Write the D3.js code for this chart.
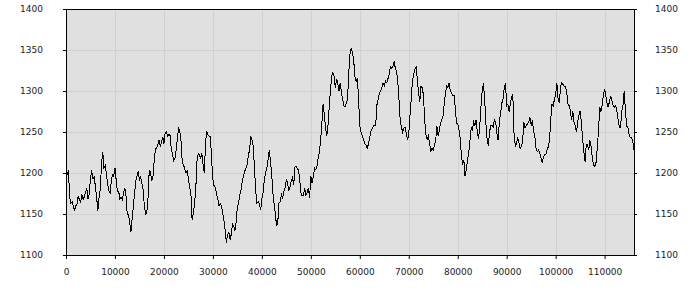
<!DOCTYPE html>
<html>
<head>
<meta charset="utf-8">
<script src="https://cdn.jsdelivr.net/npm/d3@7/dist/d3.min.js"></script>
<style>
  body { margin: 0; background: #fff; }
  .axis text { font-family: "DejaVu Sans", sans-serif; font-size: 9px; fill: #222; }
  .axis line { stroke: #000; }
  .axis path { display: none; }
</style>
</head>
<body>
<div id="chart"></div>
<script>
// samples every 250 units along x
const xStep = 250;
const values = [
  // 0 - 23000
  1200, 1198, 1203, 1170, 1163, 1165, 1160, 1154, 1160, 1162,
  1172, 1167, 1164, 1174, 1168, 1171, 1177, 1181, 1168, 1175,
  1194, 1203, 1193, 1195, 1184, 1171, 1154, 1170, 1180, 1210,
  1226, 1206, 1209, 1199, 1186, 1179, 1175, 1190, 1198, 1196,
  1206, 1191, 1177, 1178, 1168, 1171, 1168, 1175, 1182, 1172,
  1150, 1149, 1140, 1128, 1144, 1159, 1175, 1190, 1196, 1202,
  1192, 1195, 1187, 1180, 1160, 1150, 1152, 1170, 1203, 1201,
  1190, 1195, 1214, 1229, 1231, 1234, 1240, 1232, 1238, 1244,
  1236, 1249, 1250, 1245, 1247, 1246, 1230, 1223, 1215, 1218,
  1228, 1242, 1256, 1250,
  // 23500 - 46750
  1238, 1212, 1210, 1205, 1200, 1202, 1193, 1183, 1176, 1143,
  1150, 1163, 1180, 1214, 1224, 1222, 1218, 1224, 1210, 1200,
  1238, 1251, 1246, 1245, 1244, 1215, 1192, 1184, 1182, 1175,
  1168, 1160, 1163, 1160, 1151, 1142, 1130, 1115, 1125, 1128,
  1119, 1125, 1138, 1135, 1130, 1140, 1159, 1163, 1174, 1180,
  1190, 1196, 1202, 1206, 1210, 1222, 1228, 1245, 1240, 1232,
  1205, 1178, 1163, 1165, 1162, 1155, 1168, 1176, 1192, 1200,
  1205, 1216, 1228, 1215, 1200, 1176, 1163, 1151, 1135, 1140,
  1163, 1165, 1174, 1170, 1178, 1182, 1192, 1188, 1178, 1183,
  1190, 1194, 1185, 1207,
  // 47000 - 70250
  1208, 1205, 1204, 1190, 1175, 1172, 1172, 1182, 1173, 1176,
  1182, 1170, 1196, 1188, 1195, 1206, 1204, 1208, 1218, 1225,
  1240, 1260, 1284, 1272, 1255, 1245, 1258, 1280, 1300, 1318,
  1322, 1318, 1304, 1315, 1310, 1300, 1310, 1298, 1290, 1282,
  1281, 1285, 1290, 1322, 1345, 1352, 1347, 1338, 1318, 1312,
  1316, 1290, 1258, 1250, 1245, 1241, 1236, 1234, 1230, 1235,
  1242, 1251, 1254, 1257, 1258, 1258, 1283, 1290, 1297, 1300,
  1304, 1310, 1306, 1312, 1310, 1315, 1320, 1330, 1328, 1330,
  1336, 1328, 1324, 1312, 1290, 1265, 1256, 1250, 1255, 1256,
  1248, 1240, 1248, 1270,
  // 70500 - 93750
  1290, 1312, 1320, 1326, 1330, 1314, 1298, 1287, 1306, 1304,
  1295, 1265, 1247, 1241, 1245, 1237, 1226, 1230, 1228, 1233,
  1240, 1257, 1245, 1252, 1261, 1265, 1270, 1284, 1298, 1306,
  1304, 1310, 1300, 1298, 1294, 1294, 1280, 1260, 1260, 1253,
  1243, 1222, 1210, 1216, 1196, 1205, 1216, 1224, 1240, 1255,
  1253, 1262, 1258, 1265, 1250, 1241, 1258, 1281, 1300, 1310,
  1290, 1261, 1241, 1233, 1250, 1258, 1258, 1256, 1265, 1262,
  1248, 1240, 1262, 1273, 1285, 1290, 1304, 1310, 1282, 1284,
  1275, 1285, 1292, 1296, 1248, 1233, 1236, 1242, 1237, 1230,
  1232, 1238, 1262, 1255,
  // 94000 - 116000
  1258, 1260, 1262, 1268, 1258, 1264, 1250, 1245, 1230, 1226,
  1228, 1225, 1218, 1212, 1220, 1222, 1222, 1228, 1232, 1240,
  1265, 1284, 1282, 1290, 1296, 1310, 1290, 1285, 1306, 1310,
  1308, 1306, 1305, 1300, 1284, 1282, 1276, 1265, 1275, 1262,
  1258, 1250, 1262, 1270, 1276, 1262, 1242, 1226, 1214, 1235,
  1235, 1228, 1240, 1232, 1218, 1210, 1208, 1213, 1230, 1252,
  1280, 1275, 1283, 1296, 1302, 1294, 1285, 1280, 1288, 1294,
  1288, 1282, 1280, 1282, 1276, 1265, 1256, 1256, 1276, 1282,
  1300, 1276, 1257, 1256, 1247, 1243, 1243, 1238, 1228
];
const xTicks = [0, 10000, 20000, 30000, 40000, 50000, 60000, 70000, 80000, 90000, 100000, 110000];
const yTicks = [1100, 1150, 1200, 1250, 1300, 1350, 1400];
const xMax = 116000;

const margin = { top: 9, right: 66, bottom: 45, left: 66 };
const width = 700 - margin.left - margin.right;
const height = 300 - margin.top - margin.bottom;

const svg = d3.select('#chart')
  .append('svg')
  .attr('width', 700)
  .attr('height', 300)
  .append('g')
  .attr('transform', `translate(${margin.left}, ${margin.top})`);

const x = d3.scaleLinear().domain([0, xMax]).range([0, width]);
const y = d3.scaleLinear().domain([1100, 1400]).range([height, 0]);

svg.append('rect')
  .attr('width', width)
  .attr('height', height)
  .attr('fill', '#e0e0e0');

// grid
svg.append('g')
  .selectAll('line')
  .data(xTicks)
  .enter().append('line')
  .attr('x1', d => Math.round(x(d)) + 0.5)
  .attr('x2', d => Math.round(x(d)) + 0.5)
  .attr('y1', 0)
  .attr('y2', height)
  .attr('stroke', '#d0d0d0');

svg.append('g')
  .selectAll('line')
  .data(yTicks)
  .enter().append('line')
  .attr('x1', 0)
  .attr('x2', width)
  .attr('y1', d => Math.round(y(d)) + 0.5)
  .attr('y2', d => Math.round(y(d)) + 0.5)
  .attr('stroke', '#d0d0d0');

const line = d3.line()
  .x((d, i) => x(i * xStep))
  .y(d => y(d));

svg.append('path')
  .datum(values)
  .attr('fill', 'none')
  .attr('stroke', '#000')
  .attr('stroke-width', 1)
  .attr('shape-rendering', 'crispEdges')
  .attr('d', line);

svg.append('rect')
  .attr('x', 0.5)
  .attr('y', 0.5)
  .attr('width', width)
  .attr('height', height)
  .attr('fill', 'none')
  .attr('stroke', '#000');

svg.append('g')
  .attr('class', 'axis')
  .attr('transform', `translate(0, ${height})`)
  .call(d3.axisBottom(x).tickValues(xTicks).tickFormat(d3.format('d')).tickSize(4).tickPadding(10));

svg.append('g')
  .attr('class', 'axis')
  .call(d3.axisLeft(y).tickValues(yTicks).tickFormat(d3.format('d')).tickSize(3).tickPadding(20));

svg.append('g')
  .attr('class', 'axis')
  .attr('transform', `translate(${width}, 0)`)
  .call(d3.axisRight(y).tickValues(yTicks).tickFormat(d3.format('d')).tickSize(3).tickPadding(18));
</script>
</body>
</html>
